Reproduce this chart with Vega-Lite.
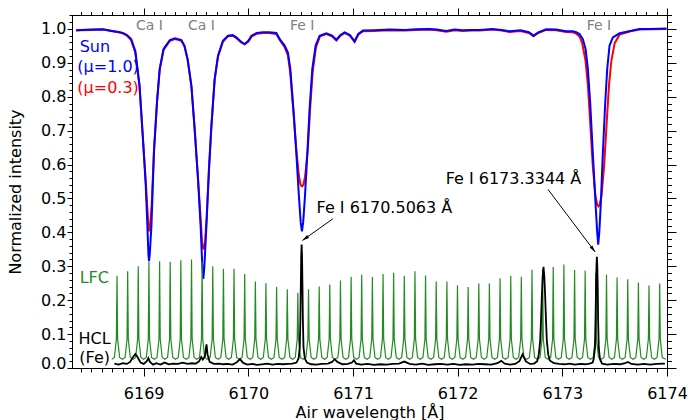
{
"$schema": "https://vega.github.io/schema/vega-lite/v6.json",
"width": 595, "height": 353,
"autosize": "none",
"padding": {"left": 72, "top": 15, "right": 22, "bottom": 52},
"background": "white",
"config": {
  "font": "DejaVu Sans",
  "view": {"stroke": null},
  "axis": {"grid": false, "domainColor": "black", "tickColor": "black", "labelColor": "black", "titleColor": "black", "labelFontSize": 16, "titleFontSize": 16, "titleFontWeight": "normal", "domainWidth": 1, "tickWidth": 1}
},
"datasets": {
  "mu1": [
    {"w":6168.355,"v":0.996},{"w":6168.40,"v":0.997},{"w":6168.50,"v":0.998},{"w":6168.61,"v":0.999},{"w":6168.70,"v":0.994},{"w":6168.76,"v":0.991},{"w":6168.80,"v":0.988},{"w":6168.84,"v":0.982},{"w":6168.88,"v":0.970},{"w":6168.92,"v":0.935},{"w":6168.96,"v":0.835},{"w":6168.99,"v":0.690},{"w":6169.02,"v":0.536},{"w":6169.035,"v":0.420},{"w":6169.045,"v":0.335},{"w":6169.051,"v":0.315},{"w":6169.058,"v":0.335},{"w":6169.074,"v":0.420},{"w":6169.098,"v":0.635},{"w":6169.127,"v":0.783},{"w":6169.153,"v":0.882},{"w":6169.19,"v":0.941},{"w":6169.25,"v":0.967},{"w":6169.30,"v":0.972},{"w":6169.36,"v":0.967},{"w":6169.39,"v":0.950},{"w":6169.42,"v":0.911},{"w":6169.456,"v":0.832},{"w":6169.487,"v":0.704},{"w":6169.519,"v":0.556},{"w":6169.544,"v":0.418},{"w":6169.560,"v":0.300},{"w":6169.570,"v":0.263},{"w":6169.580,"v":0.300},{"w":6169.599,"v":0.418},{"w":6169.624,"v":0.586},{"w":6169.647,"v":0.714},{"w":6169.678,"v":0.852},{"w":6169.71,"v":0.921},{"w":6169.757,"v":0.965},{"w":6169.805,"v":0.980},{"w":6169.85,"v":0.982},{"w":6169.885,"v":0.975},{"w":6169.93,"v":0.962},{"w":6169.965,"v":0.955},{"w":6170.00,"v":0.965},{"w":6170.03,"v":0.980},{"w":6170.08,"v":0.988},{"w":6170.14,"v":0.990},{"w":6170.20,"v":0.990},{"w":6170.267,"v":0.988},{"w":6170.30,"v":0.970},{"w":6170.347,"v":0.951},{"w":6170.378,"v":0.930},{"w":6170.401,"v":0.882},{"w":6170.433,"v":0.754},{"w":6170.458,"v":0.635},{"w":6170.483,"v":0.507},{"w":6170.500,"v":0.430},{"w":6170.512,"v":0.403},{"w":6170.524,"v":0.430},{"w":6170.541,"v":0.507},{"w":6170.564,"v":0.635},{"w":6170.585,"v":0.763},{"w":6170.611,"v":0.882},{"w":6170.643,"v":0.951},{"w":6170.681,"v":0.980},{"w":6170.745,"v":0.987},{"w":6170.80,"v":0.980},{"w":6170.841,"v":0.968},{"w":6170.88,"v":0.982},{"w":6170.92,"v":0.990},{"w":6170.97,"v":0.982},{"w":6171.015,"v":0.963},{"w":6171.05,"v":0.985},{"w":6171.095,"v":0.995},{"w":6171.20,"v":0.996},{"w":6171.35,"v":0.998},{"w":6171.50,"v":0.997},{"w":6171.60,"v":0.999},{"w":6171.73,"v":1.000},{"w":6171.80,"v":0.998},{"w":6171.891,"v":0.994},{"w":6171.97,"v":0.998},{"w":6172.047,"v":0.996},{"w":6172.13,"v":0.997},{"w":6172.209,"v":0.997},{"w":6172.333,"v":1.000},{"w":6172.42,"v":0.997},{"w":6172.496,"v":0.993},{"w":6172.60,"v":0.996},{"w":6172.68,"v":0.990},{"w":6172.725,"v":0.980},{"w":6172.77,"v":0.990},{"w":6172.846,"v":0.999},{"w":6172.94,"v":0.998},{"w":6173.037,"v":0.993},{"w":6173.10,"v":0.993},{"w":6173.133,"v":0.990},{"w":6173.164,"v":0.985},{"w":6173.196,"v":0.970},{"w":6173.222,"v":0.941},{"w":6173.244,"v":0.882},{"w":6173.266,"v":0.783},{"w":6173.291,"v":0.635},{"w":6173.317,"v":0.487},{"w":6173.333,"v":0.400},{"w":6173.343,"v":0.364},{"w":6173.353,"v":0.400},{"w":6173.368,"v":0.487},{"w":6173.387,"v":0.635},{"w":6173.410,"v":0.783},{"w":6173.429,"v":0.882},{"w":6173.451,"v":0.951},{"w":6173.483,"v":0.975},{"w":6173.547,"v":0.987},{"w":6173.65,"v":0.994},{"w":6173.737,"v":1.000},{"w":6173.85,"v":1.000},{"w":6173.995,"v":1.001}
  ],
  "mu03": [
    {"w":6168.355,"v":0.995},{"w":6168.40,"v":0.996},{"w":6168.50,"v":0.997},{"w":6168.61,"v":0.998},{"w":6168.70,"v":0.993},{"w":6168.76,"v":0.990},{"w":6168.80,"v":0.987},{"w":6168.84,"v":0.980},{"w":6168.88,"v":0.967},{"w":6168.92,"v":0.930},{"w":6168.96,"v":0.830},{"w":6168.99,"v":0.690},{"w":6169.02,"v":0.550},{"w":6169.035,"v":0.470},{"w":6169.045,"v":0.420},{"w":6169.053,"v":0.403},{"w":6169.062,"v":0.420},{"w":6169.076,"v":0.480},{"w":6169.098,"v":0.640},{"w":6169.127,"v":0.785},{"w":6169.153,"v":0.880},{"w":6169.19,"v":0.938},{"w":6169.25,"v":0.965},{"w":6169.30,"v":0.970},{"w":6169.36,"v":0.965},{"w":6169.39,"v":0.948},{"w":6169.42,"v":0.908},{"w":6169.456,"v":0.830},{"w":6169.487,"v":0.705},{"w":6169.519,"v":0.560},{"w":6169.544,"v":0.440},{"w":6169.558,"v":0.370},{"w":6169.572,"v":0.349},{"w":6169.586,"v":0.370},{"w":6169.601,"v":0.440},{"w":6169.624,"v":0.590},{"w":6169.647,"v":0.714},{"w":6169.678,"v":0.850},{"w":6169.71,"v":0.918},{"w":6169.757,"v":0.962},{"w":6169.805,"v":0.978},{"w":6169.85,"v":0.980},{"w":6169.885,"v":0.973},{"w":6169.93,"v":0.960},{"w":6169.965,"v":0.955},{"w":6170.00,"v":0.963},{"w":6170.03,"v":0.977},{"w":6170.08,"v":0.986},{"w":6170.14,"v":0.988},{"w":6170.20,"v":0.988},{"w":6170.267,"v":0.985},{"w":6170.30,"v":0.967},{"w":6170.347,"v":0.946},{"w":6170.378,"v":0.922},{"w":6170.401,"v":0.868},{"w":6170.433,"v":0.745},{"w":6170.458,"v":0.645},{"w":6170.483,"v":0.566},{"w":6170.500,"v":0.540},{"w":6170.513,"v":0.536},{"w":6170.526,"v":0.540},{"w":6170.543,"v":0.566},{"w":6170.568,"v":0.645},{"w":6170.590,"v":0.765},{"w":6170.615,"v":0.875},{"w":6170.646,"v":0.946},{"w":6170.684,"v":0.978},{"w":6170.745,"v":0.985},{"w":6170.80,"v":0.978},{"w":6170.841,"v":0.966},{"w":6170.88,"v":0.980},{"w":6170.92,"v":0.988},{"w":6170.97,"v":0.980},{"w":6171.015,"v":0.962},{"w":6171.05,"v":0.983},{"w":6171.095,"v":0.993},{"w":6171.20,"v":0.994},{"w":6171.35,"v":0.996},{"w":6171.50,"v":0.995},{"w":6171.60,"v":0.997},{"w":6171.73,"v":0.998},{"w":6171.80,"v":0.996},{"w":6171.891,"v":0.992},{"w":6171.97,"v":0.996},{"w":6172.047,"v":0.994},{"w":6172.13,"v":0.995},{"w":6172.209,"v":0.995},{"w":6172.333,"v":0.998},{"w":6172.42,"v":0.995},{"w":6172.496,"v":0.991},{"w":6172.60,"v":0.994},{"w":6172.68,"v":0.988},{"w":6172.725,"v":0.978},{"w":6172.77,"v":0.988},{"w":6172.846,"v":0.997},{"w":6172.94,"v":0.996},{"w":6173.037,"v":0.991},{"w":6173.10,"v":0.990},{"w":6173.133,"v":0.986},{"w":6173.164,"v":0.978},{"w":6173.19,"v":0.958},{"w":6173.222,"v":0.905},{"w":6173.244,"v":0.835},{"w":6173.266,"v":0.725},{"w":6173.291,"v":0.595},{"w":6173.317,"v":0.505},{"w":6173.333,"v":0.482},{"w":6173.345,"v":0.477},{"w":6173.357,"v":0.482},{"w":6173.373,"v":0.505},{"w":6173.399,"v":0.595},{"w":6173.424,"v":0.725},{"w":6173.446,"v":0.835},{"w":6173.468,"v":0.905},{"w":6173.50,"v":0.958},{"w":6173.547,"v":0.983},{"w":6173.65,"v":0.993},{"w":6173.737,"v":0.998},{"w":6173.85,"v":0.999},{"w":6173.995,"v":1.000}
  ],
  "lfc": [
    {"w":6168.695,"v":0.026},
    {"w":6168.720,"v":0.031},{"w":6168.739,"v":0.085},{"w":6168.745,"v":0.272},{"w":6168.751,"v":0.085},{"w":6168.770,"v":0.031},{"w":6168.796,"v":0.026},
    {"w":6168.822,"v":0.031},{"w":6168.841,"v":0.085},{"w":6168.847,"v":0.285},{"w":6168.853,"v":0.085},{"w":6168.872,"v":0.031},{"w":6168.898,"v":0.026},
    {"w":6168.923,"v":0.031},{"w":6168.942,"v":0.085},{"w":6168.948,"v":0.300},{"w":6168.954,"v":0.085},{"w":6168.973,"v":0.031},{"w":6168.999,"v":0.026},
    {"w":6169.025,"v":0.031},{"w":6169.044,"v":0.085},{"w":6169.050,"v":0.313},{"w":6169.056,"v":0.085},{"w":6169.075,"v":0.031},{"w":6169.101,"v":0.026},
    {"w":6169.127,"v":0.031},{"w":6169.146,"v":0.085},{"w":6169.152,"v":0.315},{"w":6169.158,"v":0.085},{"w":6169.177,"v":0.031},{"w":6169.203,"v":0.026},
    {"w":6169.228,"v":0.031},{"w":6169.247,"v":0.085},{"w":6169.253,"v":0.313},{"w":6169.259,"v":0.085},{"w":6169.278,"v":0.031},{"w":6169.304,"v":0.026},
    {"w":6169.330,"v":0.031},{"w":6169.349,"v":0.085},{"w":6169.355,"v":0.318},{"w":6169.361,"v":0.085},{"w":6169.380,"v":0.031},{"w":6169.406,"v":0.026},
    {"w":6169.432,"v":0.031},{"w":6169.451,"v":0.085},{"w":6169.457,"v":0.320},{"w":6169.463,"v":0.085},{"w":6169.482,"v":0.031},{"w":6169.508,"v":0.026},
    {"w":6169.533,"v":0.031},{"w":6169.552,"v":0.085},{"w":6169.558,"v":0.313},{"w":6169.564,"v":0.085},{"w":6169.583,"v":0.031},{"w":6169.609,"v":0.026},
    {"w":6169.635,"v":0.031},{"w":6169.654,"v":0.085},{"w":6169.660,"v":0.300},{"w":6169.666,"v":0.085},{"w":6169.685,"v":0.031},{"w":6169.711,"v":0.026},
    {"w":6169.737,"v":0.031},{"w":6169.756,"v":0.085},{"w":6169.762,"v":0.293},{"w":6169.768,"v":0.085},{"w":6169.787,"v":0.031},{"w":6169.813,"v":0.026},
    {"w":6169.838,"v":0.031},{"w":6169.857,"v":0.085},{"w":6169.863,"v":0.293},{"w":6169.869,"v":0.085},{"w":6169.888,"v":0.031},{"w":6169.914,"v":0.026},
    {"w":6169.940,"v":0.031},{"w":6169.959,"v":0.085},{"w":6169.965,"v":0.277},{"w":6169.971,"v":0.085},{"w":6169.990,"v":0.031},{"w":6170.016,"v":0.026},
    {"w":6170.042,"v":0.031},{"w":6170.061,"v":0.085},{"w":6170.067,"v":0.255},{"w":6170.073,"v":0.085},{"w":6170.092,"v":0.031},{"w":6170.118,"v":0.026},
    {"w":6170.143,"v":0.031},{"w":6170.162,"v":0.085},{"w":6170.168,"v":0.250},{"w":6170.174,"v":0.085},{"w":6170.193,"v":0.031},{"w":6170.219,"v":0.026},
    {"w":6170.245,"v":0.031},{"w":6170.264,"v":0.085},{"w":6170.270,"v":0.239},{"w":6170.276,"v":0.085},{"w":6170.295,"v":0.031},{"w":6170.321,"v":0.026},
    {"w":6170.347,"v":0.031},{"w":6170.366,"v":0.085},{"w":6170.372,"v":0.232},{"w":6170.378,"v":0.085},{"w":6170.397,"v":0.031},{"w":6170.423,"v":0.026},
    {"w":6170.448,"v":0.031},{"w":6170.467,"v":0.085},{"w":6170.473,"v":0.222},{"w":6170.479,"v":0.085},{"w":6170.498,"v":0.031},{"w":6170.524,"v":0.026},
    {"w":6170.550,"v":0.031},{"w":6170.569,"v":0.085},{"w":6170.575,"v":0.232},{"w":6170.581,"v":0.085},{"w":6170.600,"v":0.031},{"w":6170.626,"v":0.026},
    {"w":6170.652,"v":0.031},{"w":6170.671,"v":0.085},{"w":6170.677,"v":0.240},{"w":6170.683,"v":0.085},{"w":6170.702,"v":0.031},{"w":6170.728,"v":0.026},
    {"w":6170.753,"v":0.031},{"w":6170.772,"v":0.085},{"w":6170.778,"v":0.246},{"w":6170.784,"v":0.085},{"w":6170.803,"v":0.031},{"w":6170.829,"v":0.026},
    {"w":6170.855,"v":0.031},{"w":6170.874,"v":0.085},{"w":6170.880,"v":0.258},{"w":6170.886,"v":0.085},{"w":6170.905,"v":0.031},{"w":6170.931,"v":0.026},
    {"w":6170.957,"v":0.031},{"w":6170.976,"v":0.085},{"w":6170.982,"v":0.269},{"w":6170.988,"v":0.085},{"w":6171.007,"v":0.031},{"w":6171.033,"v":0.026},
    {"w":6171.058,"v":0.031},{"w":6171.077,"v":0.085},{"w":6171.083,"v":0.275},{"w":6171.089,"v":0.085},{"w":6171.108,"v":0.031},{"w":6171.134,"v":0.026},
    {"w":6171.160,"v":0.031},{"w":6171.179,"v":0.085},{"w":6171.185,"v":0.268},{"w":6171.191,"v":0.085},{"w":6171.210,"v":0.031},{"w":6171.236,"v":0.026},
    {"w":6171.262,"v":0.031},{"w":6171.281,"v":0.085},{"w":6171.287,"v":0.277},{"w":6171.293,"v":0.085},{"w":6171.312,"v":0.031},{"w":6171.338,"v":0.026},
    {"w":6171.363,"v":0.031},{"w":6171.382,"v":0.085},{"w":6171.388,"v":0.281},{"w":6171.394,"v":0.085},{"w":6171.413,"v":0.031},{"w":6171.439,"v":0.026},
    {"w":6171.465,"v":0.031},{"w":6171.484,"v":0.085},{"w":6171.490,"v":0.272},{"w":6171.496,"v":0.085},{"w":6171.515,"v":0.031},{"w":6171.541,"v":0.026},
    {"w":6171.567,"v":0.031},{"w":6171.586,"v":0.085},{"w":6171.592,"v":0.285},{"w":6171.598,"v":0.085},{"w":6171.617,"v":0.031},{"w":6171.643,"v":0.026},
    {"w":6171.668,"v":0.031},{"w":6171.687,"v":0.085},{"w":6171.693,"v":0.273},{"w":6171.699,"v":0.085},{"w":6171.718,"v":0.031},{"w":6171.744,"v":0.026},
    {"w":6171.770,"v":0.031},{"w":6171.789,"v":0.085},{"w":6171.795,"v":0.255},{"w":6171.801,"v":0.085},{"w":6171.820,"v":0.031},{"w":6171.846,"v":0.026},
    {"w":6171.872,"v":0.031},{"w":6171.891,"v":0.085},{"w":6171.897,"v":0.255},{"w":6171.903,"v":0.085},{"w":6171.922,"v":0.031},{"w":6171.948,"v":0.026},
    {"w":6171.973,"v":0.031},{"w":6171.992,"v":0.085},{"w":6171.998,"v":0.244},{"w":6172.004,"v":0.085},{"w":6172.023,"v":0.031},{"w":6172.049,"v":0.026},
    {"w":6172.075,"v":0.031},{"w":6172.094,"v":0.085},{"w":6172.100,"v":0.239},{"w":6172.106,"v":0.085},{"w":6172.125,"v":0.031},{"w":6172.151,"v":0.026},
    {"w":6172.177,"v":0.031},{"w":6172.196,"v":0.085},{"w":6172.202,"v":0.249},{"w":6172.208,"v":0.085},{"w":6172.227,"v":0.031},{"w":6172.253,"v":0.026},
    {"w":6172.278,"v":0.031},{"w":6172.297,"v":0.085},{"w":6172.303,"v":0.249},{"w":6172.309,"v":0.085},{"w":6172.328,"v":0.031},{"w":6172.354,"v":0.026},
    {"w":6172.380,"v":0.031},{"w":6172.399,"v":0.085},{"w":6172.405,"v":0.265},{"w":6172.411,"v":0.085},{"w":6172.430,"v":0.031},{"w":6172.456,"v":0.026},
    {"w":6172.482,"v":0.031},{"w":6172.501,"v":0.085},{"w":6172.507,"v":0.272},{"w":6172.513,"v":0.085},{"w":6172.532,"v":0.031},{"w":6172.558,"v":0.026},
    {"w":6172.583,"v":0.031},{"w":6172.602,"v":0.085},{"w":6172.608,"v":0.269},{"w":6172.614,"v":0.085},{"w":6172.633,"v":0.031},{"w":6172.659,"v":0.026},
    {"w":6172.685,"v":0.031},{"w":6172.704,"v":0.085},{"w":6172.710,"v":0.290},{"w":6172.716,"v":0.085},{"w":6172.735,"v":0.031},{"w":6172.761,"v":0.026},
    {"w":6172.787,"v":0.031},{"w":6172.806,"v":0.085},{"w":6172.812,"v":0.292},{"w":6172.818,"v":0.085},{"w":6172.837,"v":0.031},{"w":6172.863,"v":0.026},
    {"w":6172.888,"v":0.031},{"w":6172.907,"v":0.085},{"w":6172.913,"v":0.298},{"w":6172.919,"v":0.085},{"w":6172.938,"v":0.031},{"w":6172.964,"v":0.026},
    {"w":6172.990,"v":0.031},{"w":6173.009,"v":0.085},{"w":6173.015,"v":0.305},{"w":6173.021,"v":0.085},{"w":6173.040,"v":0.031},{"w":6173.066,"v":0.026},
    {"w":6173.092,"v":0.031},{"w":6173.111,"v":0.085},{"w":6173.117,"v":0.289},{"w":6173.123,"v":0.085},{"w":6173.142,"v":0.031},{"w":6173.168,"v":0.026},
    {"w":6173.193,"v":0.031},{"w":6173.212,"v":0.085},{"w":6173.218,"v":0.287},{"w":6173.224,"v":0.085},{"w":6173.243,"v":0.031},{"w":6173.269,"v":0.026},
    {"w":6173.295,"v":0.031},{"w":6173.314,"v":0.085},{"w":6173.320,"v":0.280},{"w":6173.326,"v":0.085},{"w":6173.345,"v":0.031},{"w":6173.371,"v":0.026},
    {"w":6173.397,"v":0.031},{"w":6173.416,"v":0.085},{"w":6173.422,"v":0.275},{"w":6173.428,"v":0.085},{"w":6173.447,"v":0.031},{"w":6173.473,"v":0.026},
    {"w":6173.498,"v":0.031},{"w":6173.517,"v":0.085},{"w":6173.523,"v":0.267},{"w":6173.529,"v":0.085},{"w":6173.548,"v":0.031},{"w":6173.574,"v":0.026},
    {"w":6173.600,"v":0.031},{"w":6173.619,"v":0.085},{"w":6173.625,"v":0.262},{"w":6173.631,"v":0.085},{"w":6173.650,"v":0.031},{"w":6173.676,"v":0.026},
    {"w":6173.702,"v":0.031},{"w":6173.721,"v":0.085},{"w":6173.727,"v":0.252},{"w":6173.733,"v":0.085},{"w":6173.752,"v":0.031},{"w":6173.778,"v":0.026},
    {"w":6173.803,"v":0.031},{"w":6173.822,"v":0.085},{"w":6173.828,"v":0.243},{"w":6173.834,"v":0.085},{"w":6173.853,"v":0.031},{"w":6173.879,"v":0.026},
    {"w":6173.905,"v":0.031},{"w":6173.924,"v":0.085},{"w":6173.930,"v":0.249},{"w":6173.936,"v":0.085},{"w":6173.955,"v":0.031},{"w":6173.990,"v":0.026}
  ],
  "hcl": [
    {"w":6168.72,"v":0.013},{"w":6168.76,"v":0.010},{"w":6168.80,"v":0.014},{"w":6168.84,"v":0.012},{"w":6168.87,"v":0.018},{"w":6168.90,"v":0.033},{"w":6168.92,"v":0.041},{"w":6168.94,"v":0.033},{"w":6168.97,"v":0.016},{"w":6169.00,"v":0.012},{"w":6169.03,"v":0.020},{"w":6169.045,"v":0.029},{"w":6169.06,"v":0.018},{"w":6169.09,"v":0.010},{"w":6169.12,"v":0.014},{"w":6169.16,"v":0.010},{"w":6169.20,"v":0.016},{"w":6169.24,"v":0.011},{"w":6169.28,"v":0.013},{"w":6169.33,"v":0.012},{"w":6169.37,"v":0.016},{"w":6169.42,"v":0.012},{"w":6169.46,"v":0.014},{"w":6169.50,"v":0.013},{"w":6169.53,"v":0.020},{"w":6169.55,"v":0.032},{"w":6169.565,"v":0.025},{"w":6169.585,"v":0.035},{"w":6169.60,"v":0.070},{"w":6169.61,"v":0.040},{"w":6169.63,"v":0.018},{"w":6169.67,"v":0.012},{"w":6169.72,"v":0.013},{"w":6169.76,"v":0.011},{"w":6169.80,"v":0.012},{"w":6169.85,"v":0.010},{"w":6169.89,"v":0.017},{"w":6169.92,"v":0.026},{"w":6169.95,"v":0.015},{"w":6169.99,"v":0.010},{"w":6170.04,"v":0.012},{"w":6170.08,"v":0.009},{"w":6170.13,"v":0.011},{"w":6170.18,"v":0.013},{"w":6170.23,"v":0.010},{"w":6170.28,"v":0.012},{"w":6170.33,"v":0.011},{"w":6170.38,"v":0.012},{"w":6170.42,"v":0.013},{"w":6170.46,"v":0.016},{"w":6170.48,"v":0.028},{"w":6170.491,"v":0.060},{"w":6170.497,"v":0.140},{"w":6170.501,"v":0.240},{"w":6170.505,"v":0.330},{"w":6170.509,"v":0.364},{"w":6170.513,"v":0.330},{"w":6170.517,"v":0.240},{"w":6170.521,"v":0.140},{"w":6170.527,"v":0.060},{"w":6170.54,"v":0.028},{"w":6170.56,"v":0.016},{"w":6170.60,"v":0.011},{"w":6170.65,"v":0.010},{"w":6170.70,"v":0.012},{"w":6170.76,"v":0.013},{"w":6170.80,"v":0.018},{"w":6170.825,"v":0.026},{"w":6170.85,"v":0.018},{"w":6170.90,"v":0.011},{"w":6170.95,"v":0.012},{"w":6170.99,"v":0.016},{"w":6171.008,"v":0.023},{"w":6171.03,"v":0.013},{"w":6171.08,"v":0.010},{"w":6171.14,"v":0.012},{"w":6171.20,"v":0.009},{"w":6171.26,"v":0.011},{"w":6171.32,"v":0.010},{"w":6171.38,"v":0.012},{"w":6171.44,"v":0.013},{"w":6171.49,"v":0.019},{"w":6171.54,"v":0.012},{"w":6171.60,"v":0.010},{"w":6171.66,"v":0.013},{"w":6171.72,"v":0.009},{"w":6171.78,"v":0.011},{"w":6171.84,"v":0.012},{"w":6171.90,"v":0.010},{"w":6171.96,"v":0.012},{"w":6172.02,"v":0.009},{"w":6172.08,"v":0.011},{"w":6172.14,"v":0.010},{"w":6172.20,"v":0.012},{"w":6172.26,"v":0.011},{"w":6172.32,"v":0.010},{"w":6172.38,"v":0.014},{"w":6172.416,"v":0.021},{"w":6172.45,"v":0.013},{"w":6172.50,"v":0.010},{"w":6172.55,"v":0.012},{"w":6172.59,"v":0.020},{"w":6172.62,"v":0.040},{"w":6172.65,"v":0.020},{"w":6172.69,"v":0.012},{"w":6172.73,"v":0.013},{"w":6172.76,"v":0.020},{"w":6172.775,"v":0.040},{"w":6172.788,"v":0.080},{"w":6172.796,"v":0.140},{"w":6172.804,"v":0.210},{"w":6172.812,"v":0.270},{"w":6172.82,"v":0.298},{"w":6172.828,"v":0.270},{"w":6172.836,"v":0.210},{"w":6172.844,"v":0.140},{"w":6172.852,"v":0.080},{"w":6172.865,"v":0.040},{"w":6172.88,"v":0.022},{"w":6172.92,"v":0.014},{"w":6172.97,"v":0.012},{"w":6173.02,"v":0.011},{"w":6173.07,"v":0.013},{"w":6173.12,"v":0.010},{"w":6173.17,"v":0.012},{"w":6173.22,"v":0.011},{"w":6173.26,"v":0.013},{"w":6173.29,"v":0.016},{"w":6173.30,"v":0.028},{"w":6173.312,"v":0.060},{"w":6173.318,"v":0.140},{"w":6173.322,"v":0.240},{"w":6173.326,"v":0.300},{"w":6173.330,"v":0.328},{"w":6173.334,"v":0.300},{"w":6173.338,"v":0.240},{"w":6173.342,"v":0.140},{"w":6173.348,"v":0.060},{"w":6173.36,"v":0.025},{"w":6173.38,"v":0.013},{"w":6173.43,"v":0.010},{"w":6173.49,"v":0.012},{"w":6173.55,"v":0.011},{"w":6173.60,"v":0.014},{"w":6173.626,"v":0.018},{"w":6173.66,"v":0.012},{"w":6173.72,"v":0.010},{"w":6173.78,"v":0.012},{"w":6173.84,"v":0.010},{"w":6173.90,"v":0.012},{"w":6173.98,"v":0.013}
  ]
},
"layer": [
  {
    "data": {"name": "mu03"},
    "mark": {"type": "line", "color": "#ff0000", "strokeWidth": 2, "clip": true},
    "encoding": {
      "x": {"field": "w", "type": "quantitative", "scale": {"domain": [6168.315, 6174.0], "nice": false, "zero": false},
        "axis": {"orient": "bottom", "values": [6169, 6170, 6171, 6172, 6173, 6174], "format": "d", "tickSize": 8, "labelPadding": 9, "labelFlush": false, "title": "Air wavelength [Å]", "titleY": 49, "titleBaseline": "alphabetic"}},
      "y": {"field": "v", "type": "quantitative", "scale": {"domain": [0, 1.041], "nice": false, "zero": false},
        "axis": {"orient": "left", "values": [0, 0.1, 0.2, 0.3, 0.4, 0.5, 0.6, 0.7, 0.8, 0.9, 1.0], "format": ".1f", "tickSize": 5, "labelPadding": 1, "labelFlush": true, "labelFlushOffset": 3, "title": "Normalized intensity", "titleX": -57, "titleY": 176.5, "titleAngle": -90, "titleBaseline": "middle", "titleAlign": "center"}}
    }
  },
  {
    "data": {"name": "mu1"},
    "mark": {"type": "line", "color": "#0000ff", "strokeWidth": 2, "clip": true},
    "encoding": {
      "x": {"field": "w", "type": "quantitative", "scale": {"domain": [6168.315, 6174.0], "nice": false, "zero": false},
        "axis": {"orient": "bottom", "values": [6168.4, 6168.5, 6168.6, 6168.7, 6168.8, 6168.9, 6169.1, 6169.2, 6169.3, 6169.4, 6169.5, 6169.6, 6169.7, 6169.8, 6169.9, 6170.1, 6170.2, 6170.3, 6170.4, 6170.5, 6170.6, 6170.7, 6170.8, 6170.9, 6171.1, 6171.2, 6171.3, 6171.4, 6171.5, 6171.6, 6171.7, 6171.8, 6171.9, 6172.1, 6172.2, 6172.3, 6172.4, 6172.5, 6172.6, 6172.7, 6172.8, 6172.9, 6173.1, 6173.2, 6173.3, 6173.4, 6173.5, 6173.6, 6173.7, 6173.8, 6173.9], "tickSize": 4, "labels": false, "title": null}},
      "y": {"field": "v", "type": "quantitative", "scale": {"domain": [0, 1.041], "nice": false, "zero": false},
        "axis": {"orient": "left", "values": [0.02, 0.04, 0.06, 0.08, 0.12, 0.14, 0.16, 0.18, 0.22, 0.24, 0.26, 0.28, 0.32, 0.34, 0.36, 0.38, 0.42, 0.44, 0.46, 0.48, 0.52, 0.54, 0.56, 0.58, 0.62, 0.64, 0.66, 0.68, 0.72, 0.74, 0.76, 0.78, 0.82, 0.84, 0.86, 0.88, 0.92, 0.94, 0.96, 0.98, 1.02, 1.04], "tickSize": 3, "labels": false, "title": null}}
    }
  },
  {
    "data": {"name": "lfc"},
    "mark": {"type": "line", "color": "#228b22", "strokeWidth": 1.2, "clip": true},
    "encoding": {
      "x": {"field": "w", "type": "quantitative", "scale": {"domain": [6168.315, 6174.0], "nice": false, "zero": false},
        "axis": {"orient": "top", "values": [6169, 6170, 6171, 6172, 6173, 6174], "tickSize": 7, "labels": false, "title": null}},
      "y": {"field": "v", "type": "quantitative", "scale": {"domain": [0, 1.041], "nice": false, "zero": false},
        "axis": {"orient": "right", "values": [0, 0.1, 0.2, 0.3, 0.4, 0.5, 0.6, 0.7, 0.8, 0.9, 1.0], "tickSize": 9, "labels": false, "title": null}}
    }
  },
  {
    "data": {"name": "hcl"},
    "mark": {"type": "line", "color": "#000000", "strokeWidth": 1.8, "clip": true},
    "encoding": {
      "x": {"field": "w", "type": "quantitative", "scale": {"domain": [6168.315, 6174.0], "nice": false, "zero": false},
        "axis": {"orient": "top", "values": [6168.4, 6168.5, 6168.6, 6168.7, 6168.8, 6168.9, 6169.1, 6169.2, 6169.3, 6169.4, 6169.5, 6169.6, 6169.7, 6169.8, 6169.9, 6170.1, 6170.2, 6170.3, 6170.4, 6170.5, 6170.6, 6170.7, 6170.8, 6170.9, 6171.1, 6171.2, 6171.3, 6171.4, 6171.5, 6171.6, 6171.7, 6171.8, 6171.9, 6172.1, 6172.2, 6172.3, 6172.4, 6172.5, 6172.6, 6172.7, 6172.8, 6172.9, 6173.1, 6173.2, 6173.3, 6173.4, 6173.5, 6173.6, 6173.7, 6173.8, 6173.9], "tickSize": 3.5, "labels": false, "title": null}},
      "y": {"field": "v", "type": "quantitative", "scale": {"domain": [0, 1.041], "nice": false, "zero": false},
        "axis": {"orient": "right", "values": [0.02, 0.04, 0.06, 0.08, 0.12, 0.14, 0.16, 0.18, 0.22, 0.24, 0.26, 0.28, 0.32, 0.34, 0.36, 0.38, 0.42, 0.44, 0.46, 0.48, 0.52, 0.54, 0.56, 0.58, 0.62, 0.64, 0.66, 0.68, 0.72, 0.74, 0.76, 0.78, 0.82, 0.84, 0.86, 0.88, 0.92, 0.94, 0.96, 0.98, 1.02, 1.04], "tickSize": 4.5, "labels": false, "title": null}}
    }
  },
  {
    "data": {"values": [{"t": "Ca I", "w": 6169.055, "v": 1.009}, {"t": "Ca I", "w": 6169.552, "v": 1.009}, {"t": "Fe I", "w": 6170.515, "v": 1.009}, {"t": "Fe I", "w": 6173.35, "v": 1.009}]},
    "mark": {"type": "text", "color": "#808080", "fontSize": 14, "align": "center", "baseline": "middle"},
    "encoding": {"x": {"field": "w", "type": "quantitative", "axis": null}, "y": {"field": "v", "type": "quantitative", "axis": null}, "text": {"field": "t"}}
  },
  {
    "data": {"values": [{"t": "Sun", "w": 6168.388, "v": 0.948}, {"t": "(μ=1.0)", "w": 6168.366, "v": 0.887}]},
    "mark": {"type": "text", "color": "#0000ff", "fontSize": 16, "align": "left", "baseline": "middle"},
    "encoding": {"x": {"field": "w", "type": "quantitative", "axis": null}, "y": {"field": "v", "type": "quantitative", "axis": null}, "text": {"field": "t"}}
  },
  {
    "data": {"values": [{"t": "(μ=0.3)", "w": 6168.366, "v": 0.827}]},
    "mark": {"type": "text", "color": "#ff0000", "fontSize": 16, "align": "left", "baseline": "middle"},
    "encoding": {"x": {"field": "w", "type": "quantitative", "axis": null}, "y": {"field": "v", "type": "quantitative", "axis": null}, "text": {"field": "t"}}
  },
  {
    "data": {"values": [{"t": "LFC", "w": 6168.388, "v": 0.265}]},
    "mark": {"type": "text", "color": "#228b22", "fontSize": 16, "align": "left", "baseline": "middle"},
    "encoding": {"x": {"field": "w", "type": "quantitative", "axis": null}, "y": {"field": "v", "type": "quantitative", "axis": null}, "text": {"field": "t"}}
  },
  {
    "data": {"values": [{"t": "HCL", "w": 6168.378, "v": 0.085}, {"t": "(Fe)", "w": 6168.385, "v": 0.030}, {"t": "Fe I 6170.5063 Å", "w": 6170.652, "v": 0.473}]},
    "mark": {"type": "text", "color": "#000000", "fontSize": 16, "align": "left", "baseline": "middle"},
    "encoding": {"x": {"field": "w", "type": "quantitative", "axis": null}, "y": {"field": "v", "type": "quantitative", "axis": null}, "text": {"field": "t"}}
  },
  {
    "data": {"values": [{"t": "Fe I 6173.3344 Å", "w": 6173.181, "v": 0.558}]},
    "mark": {"type": "text", "color": "#000000", "fontSize": 16, "align": "right", "baseline": "middle"},
    "encoding": {"x": {"field": "w", "type": "quantitative", "axis": null}, "y": {"field": "v", "type": "quantitative", "axis": null}, "text": {"field": "t"}}
  },
  {
    "data": {"values": [{"w": 6170.808, "v": 0.440, "w2": 6170.516, "v2": 0.376}, {"w": 6172.862, "v": 0.527, "w2": 6173.314, "v2": 0.342}]},
    "mark": {"type": "rule", "color": "#000000", "strokeWidth": 1},
    "encoding": {"x": {"field": "w", "type": "quantitative", "axis": null}, "y": {"field": "v", "type": "quantitative", "axis": null}, "x2": {"field": "w2"}, "y2": {"field": "v2"}}
  },
  {
    "data": {"values": [{"w": 6170.516, "v": 0.376}]},
    "mark": {"type": "point", "shape": "M0,0L0.5,2L-0.5,2Z", "size": 49, "filled": true, "color": "#000000", "opacity": 1, "angle": 234.7},
    "encoding": {"x": {"field": "w", "type": "quantitative", "axis": null}, "y": {"field": "v", "type": "quantitative", "axis": null}}
  },
  {
    "data": {"values": [{"w": 6173.314, "v": 0.342}]},
    "mark": {"type": "point", "shape": "M0,0L0.5,2L-0.5,2Z", "size": 49, "filled": true, "color": "#000000", "opacity": 1, "angle": 142.7},
    "encoding": {"x": {"field": "w", "type": "quantitative", "axis": null}, "y": {"field": "v", "type": "quantitative", "axis": null}}
  }
],
"resolve": {"axis": {"x": "independent", "y": "independent"}}
}
